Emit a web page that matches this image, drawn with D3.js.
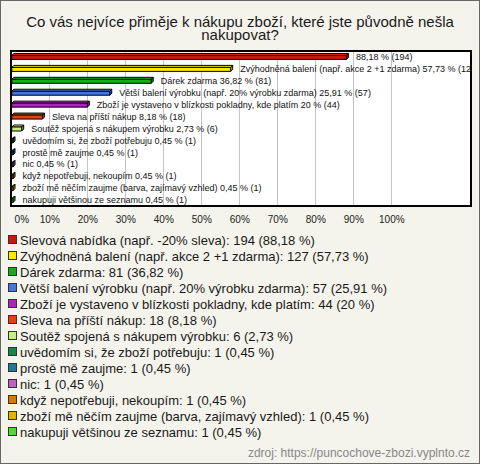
<!DOCTYPE html>
<html><head><meta charset="utf-8">
<script src="https://cdn.jsdelivr.net/npm/d3@7"></script>
<style>html,body{margin:0;padding:0;background:#f4f3ec;}svg{display:block;}</style>
</head><body>
<script>
const title = ["Co vás nejvíce přiměje k nákupu zboží, které jste původně nešla", "nakupovat?"];
const categories = [
  "Slevová nabídka (např. -20% sleva)",
  "Zvýhodněná balení (např. akce 2 +1 zdarma)",
  "Dárek zdarma",
  "Větší balení výrobku (např. 20% výrobku zdarma)",
  "Zboží je vystaveno v blízkosti pokladny, kde platím",
  "Sleva na příští nákup",
  "Soutěž spojená s nákupem výrobku",
  "uvědomím si, že zboží potřebuju",
  "prostě mě zaujme",
  "nic",
  "když nepotřebuji, nekoupím",
  "zboží mě něčím zaujme (barva, zajímavý vzhled)",
  "nakupuji většinou ze seznamu"
];
const percents = [88.18, 57.73, 36.82, 25.91, 20, 8.18, 2.73, 0.45, 0.45, 0.45, 0.45, 0.45, 0.45];
const counts = [194, 127, 81, 57, 44, 18, 6, 1, 1, 1, 1, 1, 1];
const showNameInBar = [false, true, true, true, true, true, true, true, true, true, true, true, true];
const colors = ["#c41a0c", "#ffe800", "#12b012", "#4a72e8", "#b81ec8", "#e2420c", "#c4f07c", "#108a50", "#1f7a92", "#c060c0", "#e2720e", "#e2b200", "#48e030"];
const xTicks = [0, 10, 20, 30, 40, 50, 60, 70, 80, 90, 100];
const source = "zdroj: https://puncochove-zbozi.vyplnto.cz";

const W = 480, H = 464;
const fmt = v => String(v).replace(".", ",");
const svg = d3.select("body").append("svg").attr("width", W).attr("height", H);

svg.append("rect").attr("x", 0.5).attr("y", 0.5).attr("width", W - 1).attr("height", H - 1)
  .attr("fill", "#f4f3ec").attr("stroke", "#666");

svg.append("text").attr("x", 240).attr("text-anchor", "middle")
  .attr("font-family", "Liberation Sans, Arial, sans-serif").attr("font-size", 15).attr("fill", "#1a1a1a")
  .selectAll("tspan").data(title).join("tspan")
  .attr("x", 240).attr("y", (d, i) => 26.5 + i * 13.5).text(d => d);

const plot = {x0: 11, x1: 471, y0: 51, y1: 206};
const x = d3.scaleLinear().domain([0, 100]).range([11.3, 391.3]);
const y = d3.scaleBand().domain(d3.range(categories.length)).range([plot.y0, plot.y1]);

svg.append("rect").attr("x", plot.x0).attr("y", plot.y0).attr("width", plot.x1 - plot.x0).attr("height", plot.y1 - plot.y0)
  .attr("fill", "#fff");

svg.append("g").selectAll("line").data(xTicks.slice(1)).join("line")
  .attr("x1", d => Math.round(x(d)) + 0.5).attr("x2", d => Math.round(x(d)) + 0.5)
  .attr("y1", plot.y0).attr("y2", plot.y1).attr("stroke", "#c4c4c4").attr("stroke-width", 1);

const defs = svg.append("defs");
defs.append("clipPath").attr("id", "pc").append("rect")
  .attr("x", plot.x0).attr("y", plot.y0).attr("width", plot.x1 - plot.x0).attr("height", plot.y1 - plot.y0);

const dep = 2;
const bars = svg.append("g").attr("clip-path", "url(#pc)");
categories.forEach((c, i) => {
  const cy = y(i) + y.bandwidth() / 2;
  const xa = x(0) + 0.5, xb = x(percents[i]);
  const yt = cy - 1.5, yb = cy + 2.5;
  const col = d3.color(colors[i]);
  const g = bars.append("g").attr("stroke", "#000").attr("stroke-width", 1).attr("stroke-linejoin", "round");
  g.append("polygon").attr("points", [[xa, yt], [xa + dep, yt - dep], [xb + dep, yt - dep], [xb, yt]].join(" "))
    .attr("fill", col.brighter(0.6));
  g.append("polygon").attr("points", [[xb, yt], [xb + dep, yt - dep], [xb + dep, yb - dep], [xb, yb]].join(" "))
    .attr("fill", col.darker(0.6));
  g.append("rect").attr("x", xa).attr("y", yt).attr("width", Math.max(0, xb - xa)).attr("height", yb - yt)
    .attr("fill", col);
  const lab = (showNameInBar[i] ? c + " " : "") + fmt(percents[i]) + " % (" + counts[i] + ")";
  bars.append("text").attr("x", xb + dep + 7.5).attr("y", cy + 3.2)
    .attr("font-family", "Liberation Sans, Arial, sans-serif").attr("font-size", 9).attr("fill", "#111")
    .text(lab);
});

svg.append("rect").attr("x", plot.x0).attr("y", plot.y0).attr("width", plot.x1 - plot.x0).attr("height", plot.y1 - plot.y0)
  .attr("fill", "none").attr("stroke", "#000").attr("stroke-width", 2);

const ax = svg.append("g").attr("transform", `translate(0,${plot.y1})`)
  .call(d3.axisBottom(x).tickValues(xTicks).tickFormat(d => d + "%").tickSize(0).tickPadding(10));
ax.select(".domain").remove();
ax.selectAll("text").attr("font-family", "Liberation Sans, Arial, sans-serif").attr("font-size", 10).attr("fill", "#222")
  .attr("dy", "0.71em")
  .attr("dx", d => d === 0 ? 10 : 0);

const leg = svg.append("g");
categories.forEach((c, i) => {
  const cy = 240 + i * 16;
  leg.append("rect").attr("x", 8.5).attr("y", cy - 4.5).attr("width", 8).attr("height", 8)
    .attr("fill", colors[i]).attr("stroke", "#333").attr("stroke-width", 1);
  leg.append("text").attr("x", 20).attr("y", cy + 4.5)
    .attr("font-family", "Liberation Sans, Arial, sans-serif").attr("font-size", 13).attr("fill", "#1a1a1a")
    .text(c + ": " + counts[i] + " (" + fmt(percents[i]) + " %)");
});

svg.append("text").attr("x", 470).attr("y", 457).attr("text-anchor", "end")
  .attr("font-family", "Liberation Sans, Arial, sans-serif").attr("font-size", 12).attr("fill", "#888")
  .text(source);
</script>
</body></html>
